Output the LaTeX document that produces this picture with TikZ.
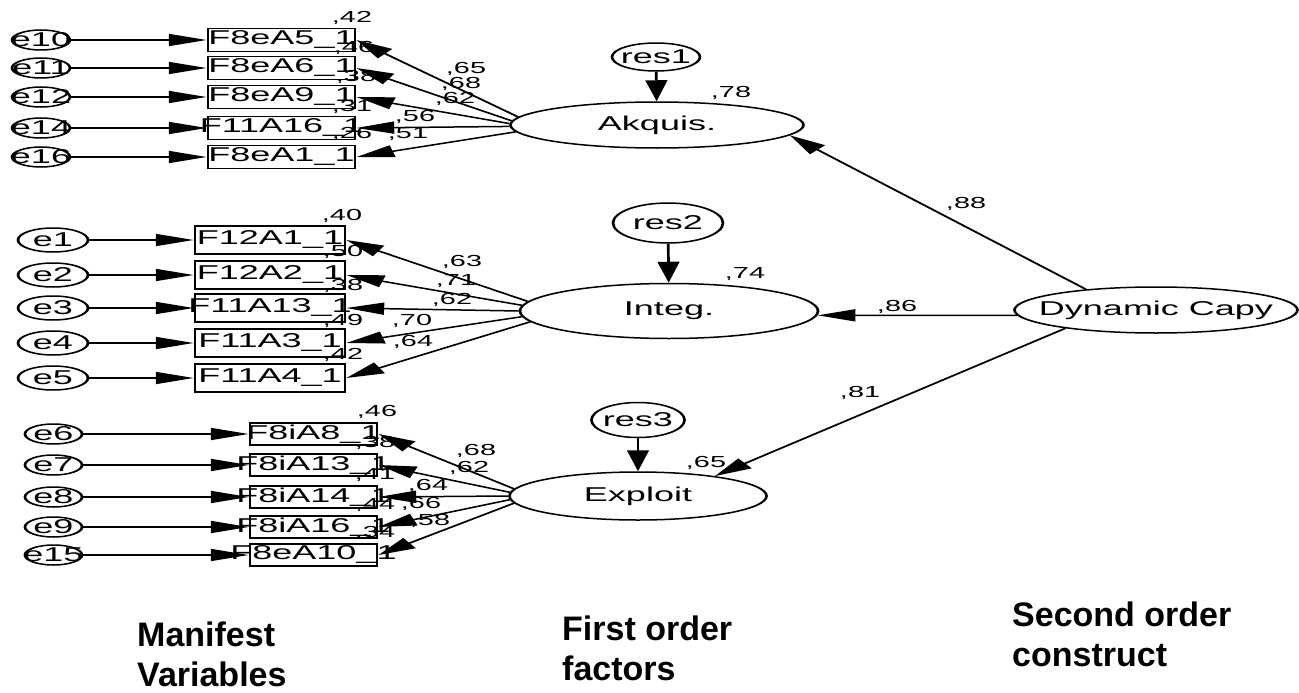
\documentclass[tikz,border=0pt]{standalone}
\usepackage{fontspec}
\setmainfont{Liberation Sans}
\usetikzlibrary{arrows.meta,shapes.geometric}
\begin{document}
\begin{tikzpicture}[x=1pt,y=-1pt,
  lw/.style={line width=1.5pt},
  eell/.style={ellipse,draw,lw,inner sep=0pt,minimum height=20pt},
  ebox/.style={rectangle,draw,lw,inner sep=0pt},
  lat/.style={ellipse,draw,lw,inner sep=0pt},
  lbl/.style={font=\fontsize{20}{24}\selectfont,inner sep=0pt},
  num/.style={font=\fontsize{16}{19}\selectfont,inner sep=0pt},
  arr/.style={lw,-{Triangle[length=21pt,width=12pt]}},
  big/.style={font=\fontsize{34}{40}\selectfont\bfseries,align=left,inner sep=0pt,anchor=base west}]
\useasboundingbox (0,0) rectangle (1299,693);
\fill[white] (0,0) rectangle (1299,693);
\begin{scope}[x=0.555556pt,transform canvas={xscale=1.8}]
% ---------- top block ----------
\tikzset{te/.style={eell,minimum width=32.2pt},tb/.style={ebox,minimum width=81.7pt,minimum height=23pt}}
\node[te,label={[lbl]center:e10}] (e10) at (41,40) {};
\node[te,label={[lbl]center:e11}] (e11) at (41,68) {};
\node[te,label={[lbl]center:e12}] (e12) at (41,97) {};
\node[te,label={[lbl]center:e14}] (e14) at (41,128) {};
\node[te,label={[lbl]center:e16}] (e16) at (41,157) {};
\node[tb,label={[lbl]center:F8eA5\_1}] (ta1) at (281.5,40) {};
\node[tb,label={[lbl]center:F8eA6\_1}] (ta2) at (281.5,68) {};
\node[tb,label={[lbl]center:F8eA9\_1}] (ta3) at (281.5,97) {};
\node[tb,label={[lbl]center:F11A16\_1}] (ta4) at (281.5,128) {};
\node[tb,label={[lbl]center:F8eA1\_1}] (ta5) at (281.5,157) {};
% ---------- middle block ----------
\tikzset{me/.style={eell,minimum width=38.9pt,minimum height=24pt},mb/.style={ebox,minimum width=83.3pt,minimum height=28pt}}
\node[me,label={[lbl]center:e1}] (e1) at (53,240) {};
\node[me,label={[lbl]center:e2}] (e2) at (53,275) {};
\node[me,label={[lbl]center:e3}] (e3) at (53,308) {};
\node[me,label={[lbl]center:e4}] (e4) at (53,343) {};
\node[me,label={[lbl]center:e5}] (e5) at (53,378) {};
\node[mb,label={[lbl]center:F12A1\_1}] (ib1) at (270,240) {};
\node[mb,label={[lbl]center:F12A2\_1}] (ib2) at (270,275) {};
\node[mb,label={[lbl]center:F11A13\_1}] (ib3) at (270,308) {};
\node[mb,label={[lbl]center:F11A3\_1}] (ib4) at (270,343) {};
\node[mb,label={[lbl]center:F11A4\_1}] (ib5) at (270,378) {};
% ---------- bottom block ----------
\tikzset{be/.style={eell,minimum width=31.7pt},bb/.style={ebox,minimum width=70.6pt,minimum height=22pt}}
\node[be,label={[lbl]center:e6}] (e6) at (53.5,434) {};
\node[be,label={[lbl]center:e7}] (e7) at (53.5,465) {};
\node[be,label={[lbl]center:e8}] (e8) at (53.5,497) {};
\node[be,label={[lbl]center:e9}] (e9) at (53.5,527) {};
\node[be,label={[lbl]center:e15}] (e15) at (53.5,555) {};
\node[bb,label={[lbl]center:F8iA8\_1}] (xb1) at (313.5,434) {};
\node[bb,label={[lbl]center:F8iA13\_1}] (xb2) at (313.5,465) {};
\node[bb,label={[lbl]center:F8iA14\_1}] (xb3) at (313.5,497) {};
\node[bb,label={[lbl]center:F8iA16\_1}] (xb4) at (313.5,527) {};
\node[bb,label={[lbl]center:F8eA10\_1}] (xb5) at (313.5,555) {};
% ---------- latent variables ----------
\node[lat,minimum width=162.8pt,minimum height=46pt,label={[lbl]center:Akquis.}] (akq) at (657,125) {};
\node[lat,minimum width=165.6pt,minimum height=55pt,label={[lbl]center:Integ.}] (integ) at (669,311) {};
\node[lat,minimum width=142.8pt,minimum height=48pt,label={[lbl]center:Exploit}] (expl) at (638,496) {};
\node[lat,minimum width=48.9pt,minimum height=28pt,label={[lbl]center:res1}] (res1) at (656,57) {};
\node[lat,minimum width=61.1pt,minimum height=40pt,label={[lbl]center:res2}] (res2) at (668,223) {};
\node[lat,minimum width=51.7pt,minimum height=35pt,label={[lbl]center:res3}] (res3) at (638,420) {};
\node[lat,minimum width=157.2pt,minimum height=46pt,label={[lbl]center:Dynamic Capy}] (dc) at (1156,310) {};
% ---------- arrows: errors to indicators ----------
\foreach \a/\b in {e10/ta1,e11/ta2,e12/ta3,e14/ta4,e16/ta5,e1/ib1,e2/ib2,e3/ib3,e4/ib4,e5/ib5,e6/xb1,e7/xb2,e8/xb3,e9/xb4,e15/xb5}
  \draw[arr] (\a) -- (\b);
% ---------- loadings ----------
\draw[arr] (akq.174) -- (ta1.east);
\draw[arr] (akq.177) -- (ta2.east);
\draw[arr] (akq.179) -- (ta3.east);
\draw[arr] (akq.181) -- (ta4.east);
\draw[arr] (akq.185) -- (ta5.east);
\draw[arr] (integ.173) -- (ib1.east);
\draw[arr] (integ.176) -- (ib2.east);
\draw[arr] (integ.180) -- (ib3.east);
\draw[arr] (integ.184) -- (ib4.east);
\draw[arr] (integ.188) -- (ib5.east);
\draw[arr] (expl.174) -- (xb1.east);
\draw[arr] (expl.177) -- (xb2.east);
\draw[arr] (expl.180) -- (xb3.east);
\draw[arr] (expl.183) -- (xb4.east);
\draw[arr] (expl.186) -- (xb5.east);
% ---------- residuals ----------
\draw[arr] (res1) -- (akq);
\draw[arr] (res2) -- (integ);
\draw[arr] (res3) -- (expl);
% ---------- second order ----------
\draw[arr] (dc.152) -- (akq.-8);
\draw[arr] (dc.184) -- (integ.-3);
\draw[arr] (dc.200) -- (expl.25);
% ---------- numbers ----------
\node[num] (r1) at (352,18) {,42};
\node[num] (r2) at (354,48) {,46};
\node[num] (r3) at (356,77) {,38};
\node[num] (r4) at (352,107) {,31};
\node[num] (r5) at (352,134) {,26};
\node[num] (l1) at (466,69) {,65};
\node[num] (l2) at (461,84) {,68};
\node[num] (l3) at (455,99) {,62};
\node[num] (l4) at (415,117) {,56};
\node[num] (l5) at (408,134) {,51};
\node[num] (r6) at (342,216) {,40};
\node[num] (r7) at (343,252) {,50};
\node[num] (r8) at (343,286) {,38};
\node[num] (r9) at (343,321) {,49};
\node[num] (r10) at (343,355) {,42};
\node[num] (l6) at (462,262) {,63};
\node[num] (l7) at (456,281) {,71};
\node[num] (l8) at (452,300) {,62};
\node[num] (l9) at (412,321) {,70};
\node[num] (l10) at (413,342) {,64};
\node[num] (r11) at (377,412) {,46};
\node[num] (r12) at (375,443) {,38};
\node[num] (r13) at (375,475) {,41};
\node[num] (r14) at (375,505) {,44};
\node[num] (r15) at (375,533) {,34};
\node[num] (l11) at (476,451) {,68};
\node[num] (l12) at (469,468) {,62};
\node[num] (l13) at (428,486) {,64};
\node[num] (l14) at (421,504) {,66};
\node[num] (l15) at (430,521) {,58};
\node[num] (q1) at (731,93) {,78};
\node[num] (q2) at (745,274) {,74};
\node[num] (q3) at (706,463) {,65};
\node[num] (g1) at (966,204) {,88};
\node[num] (g2) at (897,307) {,86};
\node[num] (g3) at (860,393) {,81};
\end{scope}
% ---------- captions ----------
\node[big] (cap1) at (137,686) {Manifest\\Variables};
\node[big] (cap2) at (562,680) {First order\\factors};
\node[big] (cap3) at (1012,666) {Second order\\construct};
\end{tikzpicture}
\end{document}
